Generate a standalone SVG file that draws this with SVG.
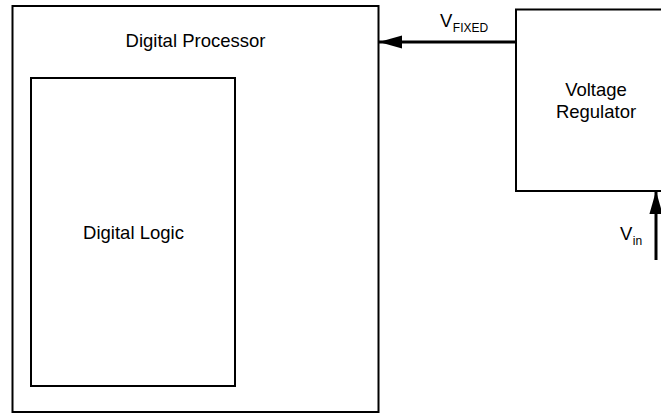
<svg xmlns="http://www.w3.org/2000/svg" width="661" height="414" viewBox="0 0 661 414">
  <style>
    .box { fill: #fff; stroke: #000; stroke-width: 2; }
    .lbl { font-family: "Liberation Sans", Arial, sans-serif; font-size: 18.5px; fill: #000; }
    .sub { font-size: 12px; fill: #000; }
    .wire { stroke: #000; stroke-width: 3; fill: none; }
  </style>
  <defs>
    <marker id="head" viewBox="0 0 10 10" refX="10" refY="5" markerWidth="7.7" markerHeight="4.4" markerUnits="strokeWidth" orient="auto" preserveAspectRatio="none">
      <path d="M0,0 L10,5 L0,10 Z" fill="#000"/>
    </marker>
  </defs>
  <rect width="661" height="414" fill="#fff"/>

  <g id="processor">
    <rect class="box" x="12.5" y="6" width="366" height="406"/>
    <text class="lbl" x="195.5" y="46.5" text-anchor="middle">Digital Processor</text>
  </g>

  <g id="logic">
    <rect class="box" x="31" y="78" width="204" height="308"/>
    <text class="lbl" x="133.5" y="238.5" text-anchor="middle">Digital Logic</text>
  </g>

  <g id="regulator">
    <rect class="box" x="516" y="9.5" width="160" height="181.5"/>
    <text class="lbl" x="596" y="95.5" text-anchor="middle">Voltage</text>
    <text class="lbl" x="596" y="118" text-anchor="middle">Regulator</text>
  </g>

  <g id="connectors">
    <line class="wire" x1="516" y1="42" x2="379" y2="42" marker-end="url(#head)"/>
    <text class="lbl" x="440" y="26.5">V<tspan class="sub" dx="0.5" dy="5">FIXED</tspan></text>
    <line class="wire" x1="656" y1="260" x2="656" y2="191" marker-end="url(#head)"/>
    <text class="lbl" x="620" y="240">V<tspan class="sub" dx="0.5" dy="5">in</tspan></text>
  </g>
</svg>
